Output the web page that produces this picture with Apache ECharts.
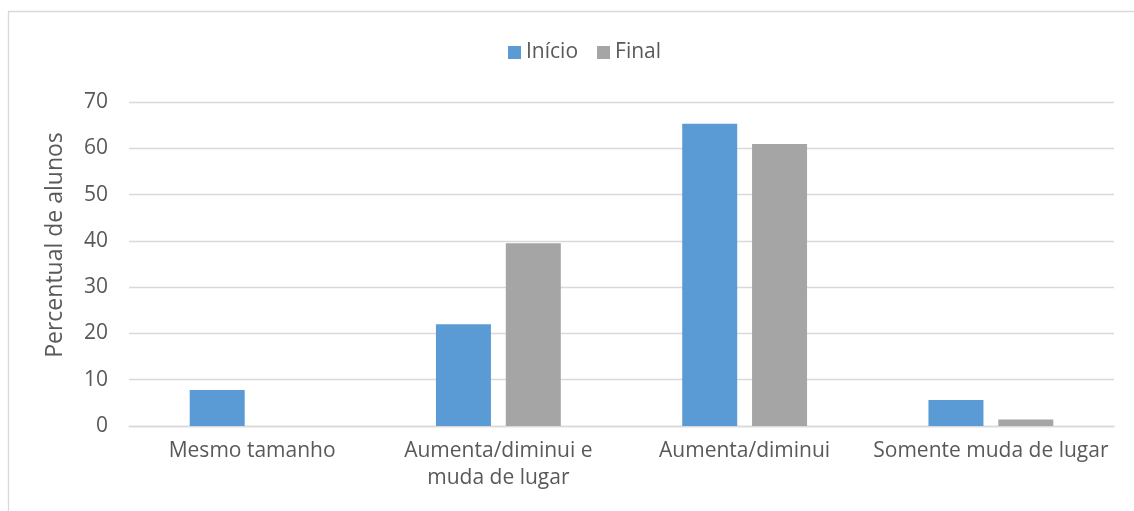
<!DOCTYPE html>
<html>
<head>
<meta charset="utf-8">
<script src="https://cdn.jsdelivr.net/npm/echarts@6/dist/echarts.min.js"></script>
<style>
  html, body { margin: 0; padding: 0; background: #ffffff; }
  #chart { width: 1134px; height: 511px; }
</style>
</head>
<body>
<div id="chart"></div>
<script>
// Categories of how students describe the change
const categories = ['Mesmo tamanho', 'Aumenta/diminui e\nmuda de lugar', 'Aumenta/diminui', 'Somente muda de lugar'];
// Percentage of students, start vs end
const inicio = [7.8, 22.0, 65.3, 5.6];
const final = [0, 39.5, 60.9, 1.4];
const seriesNames = ['Início', 'Final'];
const yAxisTitle = 'Percentual de alunos';

const FONT = '"Open Sans", "Liberation Sans", sans-serif';
const TEXT = '#595959';

const chart = echarts.init(document.getElementById('chart'), null, { renderer: 'canvas' });
chart.setOption({
  animation: false,
  backgroundColor: '#ffffff',
  textStyle: { fontFamily: FONT, color: TEXT },
  graphic: [
    {
      type: 'rect',
      shape: { x: 8.5, y: 11.5, width: 1200, height: 600 },
      style: { fill: 'none', stroke: '#d9d9d9', lineWidth: 1.3 },
      silent: true
    },
    {
      type: 'text',
      x: 55, y: 245,
      rotation: Math.PI / 2,
      style: {
        text: yAxisTitle,
        font: '23px ' + FONT,
        fill: TEXT,
        align: 'center',
        verticalAlign: 'middle'
      }
    }
  ],
  legend: {
    data: seriesNames,
    left: 503,
    top: 37,
    itemWidth: 13,
    itemHeight: 13,
    itemGap: 19,
    icon: 'rect',
    textStyle: { fontFamily: FONT, fontSize: 21, color: TEXT }
  },
  grid: { left: 129, right: 20, top: 102, bottom: 85, containLabel: false },
  xAxis: {
    type: 'category',
    data: categories,
    axisLine: { show: true, lineStyle: { color: '#d9d9d9', width: 1.3 } },
    axisTick: { show: false },
    axisLabel: {
      interval: 0,
      margin: 12,
      fontFamily: FONT,
      fontSize: 21,
      color: TEXT,
      lineHeight: 27
    }
  },
  yAxis: {
    type: 'value',
    min: 0,
    max: 70,
    interval: 10,
    axisLine: { show: false },
    axisTick: { show: false },
    splitLine: { lineStyle: { color: '#d9d9d9', width: 1.3 } },
    axisLabel: { margin: 21, fontFamily: FONT, fontSize: 21, color: TEXT }
  },
  series: [
    {
      name: seriesNames[0],
      type: 'bar',
      data: inicio,
      barWidth: 55,
      barGap: '27%',
      itemStyle: { color: '#5b9bd5' }
    },
    {
      name: seriesNames[1],
      type: 'bar',
      data: final,
      barWidth: 55,
      barGap: '27%',
      itemStyle: { color: '#a5a5a5' }
    }
  ]
});
</script>
</body>
</html>
